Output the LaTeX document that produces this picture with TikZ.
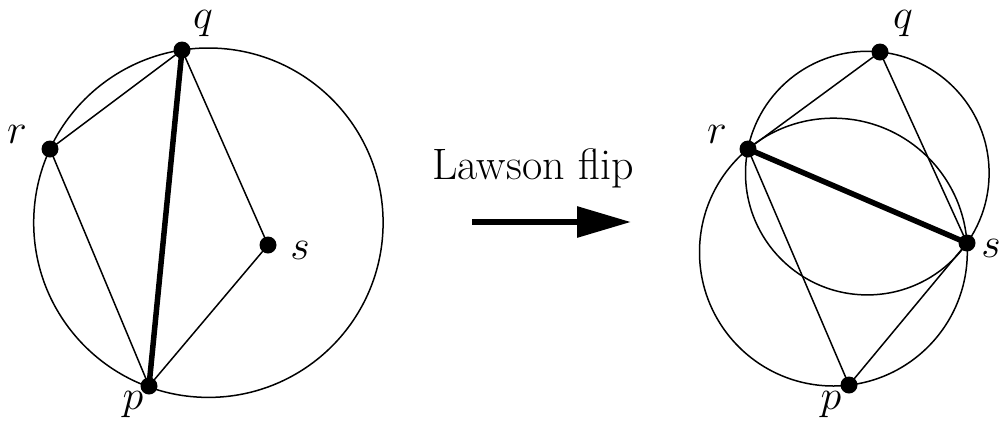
\RequirePackage{fix-cm}
\documentclass[tikz,border=0pt]{standalone}
\usetikzlibrary{arrows.meta}
\begin{document}
\begin{tikzpicture}[x=1pt,y=-1pt,
  thin line/.style={line width=1.5pt},
  thick line/.style={line width=5.5pt},
  dot/.style={circle,fill=black,inner sep=0pt,minimum size=17pt},
  lbl/.style={font=\fontsize{42}{48}\selectfont,inner sep=0pt},
]
\useasboundingbox (0,0) rectangle (1002,432);
% left configuration
\coordinate (cL) at (208.4,222.7);
\draw[thin line] (cL) circle[radius=174.7];
\node[dot] (q1) at (182,50) {};
\node[dot] (r1) at (50,149) {};
\node[dot] (s1) at (268,245) {};
\node[dot] (p1) at (149,386) {};
\draw[thin line] (r1.center) -- (q1.center) -- (s1.center) -- (p1.center) -- (r1.center);
\draw[thick line] (q1.center) -- (p1.center);
\node[lbl] (lq1) at (203,24) {$q$};
\node[lbl] (lr1) at (17,134) {$r$};
\node[lbl] (ls1) at (300,250) {$s$};
\node[lbl] (lp1) at (133,405) {$p$};
% arrow and label
\node[font=\fontsize{44}{50}\selectfont] (flip) at (533,168) {Lawson flip};
\coordinate (a0) at (472,222);
\coordinate (a1) at (631,222);
\draw[line width=6pt,-{Triangle[length=54pt,width=30pt]}] (a0) -- (a1);
% right configuration
\coordinate (cA) at (867.3,173.1);
\coordinate (cB) at (833.4,252.1);
\draw[thin line] (cA) circle[radius=121.8];
\draw[thin line] (cB) circle[radius=133.9];
\node[dot] (q2) at (880,52) {};
\node[dot] (r2) at (748,149) {};
\node[dot] (s2) at (967,243) {};
\node[dot] (p2) at (849,385) {};
\draw[thin line] (r2.center) -- (q2.center) -- (s2.center) -- (p2.center) -- (r2.center);
\draw[thick line] (r2.center) -- (s2.center);
\node[lbl] (lq2) at (903,24) {$q$};
\node[lbl] (lr2) at (717,134) {$r$};
\node[lbl] (ls2) at (991,248) {$s$};
\node[lbl] (lp2) at (831,405) {$p$};
\end{tikzpicture}
\end{document}
